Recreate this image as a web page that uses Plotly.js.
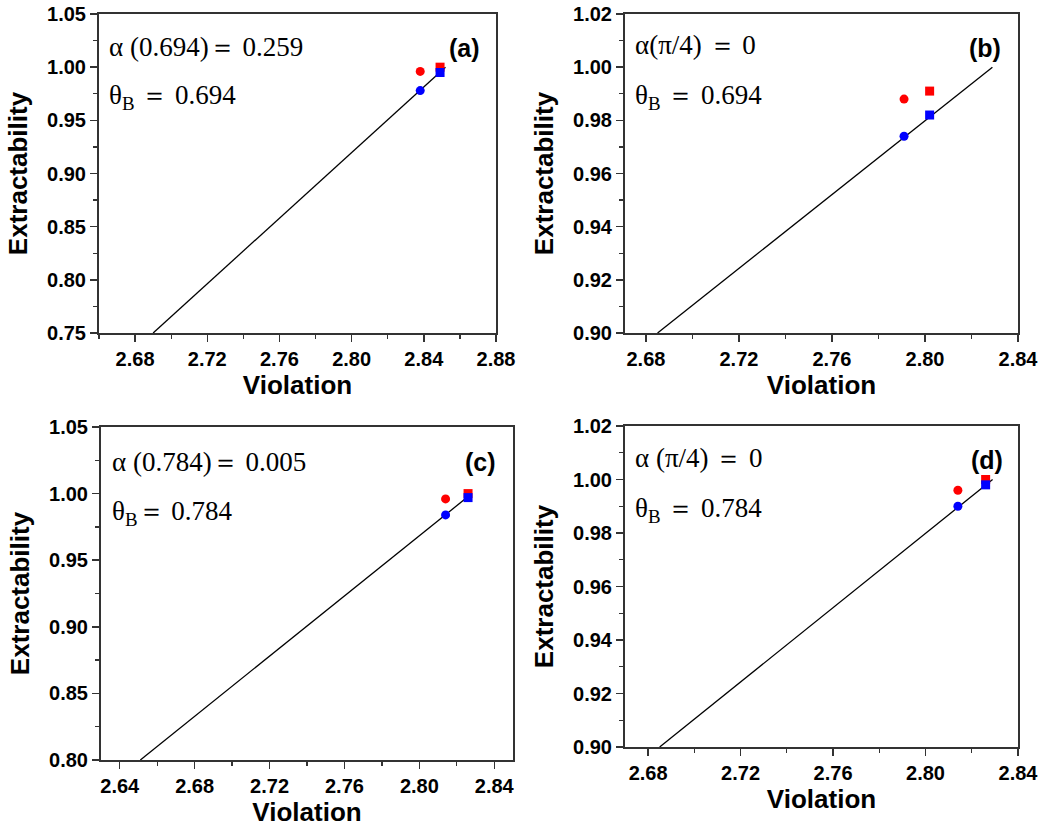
<!DOCTYPE html>
<html>
<head>
<meta charset="utf-8">
<script src="https://cdn.plot.ly/plotly-3.0.1.min.js"></script>
<style>html,body{margin:0;padding:0;background:#fff;}#chart{width:1050px;height:830px;}</style>
</head>
<body>
<div id="chart"></div>
<script>
// ---- data ----
// Panel (a)
const pointX_a = [2.838, 2.849];     // circle, square
const red_a    = [0.996, 1.000];
const blue_a   = [0.978, 0.995];
const fitX_a   = [2.690, 2.852];
const fitY_a   = [0.750, 1.000];
// Panel (b)
const pointX_b = [2.791, 2.802];
const red_b    = [0.988, 0.991];
const blue_b   = [0.974, 0.982];
const fitX_b   = [2.685, 2.829];
const fitY_b   = [0.900, 1.000];
// Panel (c)
const pointX_c = [2.814, 2.826];
const red_c    = [0.996, 1.000];
const blue_c   = [0.984, 0.997];
const fitX_c   = [2.651, 2.828];
const fitY_c   = [0.800, 1.000];
// Panel (d)
const pointX_d = [2.814, 2.826];
const red_d    = [0.996, 1.000];
const blue_d   = [0.990, 0.998];
const fitX_d   = [2.685, 2.829];
const fitY_d   = [0.900, 1.000];

const panelLabels = ['(a)', '(b)', '(c)', '(d)'];
const alphaTexts = ['α (0.694)＝ 0.259', 'α(π/4) ＝ 0', 'α (0.784)＝ 0.005', 'α (π/4) ＝ 0'];
const thetaTexts = ['θ<sub>B</sub> ＝ 0.694', 'θ<sub>B</sub> ＝ 0.694', 'θ<sub>B</sub>＝ 0.784', 'θ<sub>B</sub> ＝ 0.784'];
const xTitle = 'Violation';
const yTitle = 'Extractability';

// ---- build ----
const W = 1050, H = 830;
const panels = [
  {px: pointX_a, red: red_a, blue: blue_a, fx: fitX_a, fy: fitY_a,
   box: [99, 496, 14, 333], xr: [2.66, 2.88], yr: [0.75, 1.05], ydt: 0.05},
  {px: pointX_b, red: red_b, blue: blue_b, fx: fitX_b, fy: fitY_b,
   box: [625, 1018, 14, 333], xr: [2.671, 2.84], yr: [0.90, 1.02], ydt: 0.02},
  {px: pointX_c, red: red_c, blue: blue_c, fx: fitX_c, fy: fitY_c,
   box: [101, 513, 427, 760], xr: [2.63, 2.85], yr: [0.80, 1.05], ydt: 0.05},
  {px: pointX_d, red: red_d, blue: blue_d, fx: fitX_d, fy: fitY_d,
   box: [625, 1018, 426, 747], xr: [2.67, 2.84], yr: [0.90, 1.02], ydt: 0.02}
];
const annPos = [
  {ax: 107, ay: 47, tx: 107, ty: 97, lx: 482, ly: 48},
  {ax: 633, ay: 45, tx: 633, ty: 97, lx: 1003, ly: 48},
  {ax: 110, ay: 462, tx: 110, ty: 513, lx: 498, ly: 462},
  {ax: 633, ay: 458, tx: 633, ty: 510, lx: 1005, ly: 460}
];

const traces = [];
const layout = {
  width: W, height: H,
  margin: {l: 0, r: 0, t: 0, b: 0},
  paper_bgcolor: '#fff', plot_bgcolor: '#fff',
  showlegend: false,
  font: {family: 'Liberation Sans, Arial, sans-serif', color: '#000'},
  annotations: []
};
const axisColor = '#333';

panels.forEach((p, i) => {
  const n = i + 1;
  const xa = 'x' + (n === 1 ? '' : n), ya = 'y' + (n === 1 ? '' : n);
  const xk = 'xaxis' + (n === 1 ? '' : n), yk = 'yaxis' + (n === 1 ? '' : n);
  traces.push({x: p.fx, y: p.fy, xaxis: xa, yaxis: ya, mode: 'lines',
    line: {color: '#000', width: 1.3}, hoverinfo: 'skip'});
  traces.push({x: p.px, y: p.red, xaxis: xa, yaxis: ya, mode: 'markers',
    marker: {color: '#ff0000', size: 9, symbol: ['circle', 'square']}});
  traces.push({x: p.px, y: p.blue, xaxis: xa, yaxis: ya, mode: 'markers',
    marker: {color: '#0000ff', size: 9, symbol: ['circle', 'square']}});
  const [l, r, t, b] = p.box;
  layout[xk] = {
    domain: [l / W, r / W], anchor: ya, range: p.xr, dtick: 0.04, tickformat: '.2f',
    showline: true, mirror: true, linecolor: axisColor, linewidth: 2,
    ticks: 'outside', ticklen: 7, tickwidth: 1.5, tickcolor: axisColor,
    minor: {dtick: 0.02, ticks: 'outside', ticklen: 4, tickwidth: 1.2, tickcolor: axisColor, showgrid: false},
    showgrid: false, zeroline: false, automargin: false,
    tickfont: {family: 'Liberation Sans, Arial, sans-serif', size: 20, weight: 'bold'},
    title: {text: '<b>' + xTitle + '</b>', standoff: 4,
            font: {family: 'Liberation Sans, Arial, sans-serif', size: 26}}
  };
  layout[yk] = {
    domain: [1 - b / H, 1 - t / H], anchor: xa, range: p.yr, dtick: p.ydt, tickformat: '.2f',
    showline: true, mirror: true, linecolor: axisColor, linewidth: 2,
    ticks: 'outside', ticklen: 7, tickwidth: 1.5, tickcolor: axisColor,
    minor: {dtick: p.ydt / 2, ticks: 'outside', ticklen: 4, tickwidth: 1.2, tickcolor: axisColor, showgrid: false},
    showgrid: false, zeroline: false, automargin: false,
    tickfont: {family: 'Liberation Sans, Arial, sans-serif', size: 20, weight: 'bold'},
    title: {text: '<b>' + yTitle + '</b>', standoff: 12,
            font: {family: 'Liberation Sans, Arial, sans-serif', size: 26}}
  };
  const a = annPos[i];
  const serif = {family: 'Liberation Serif, Times New Roman, serif', size: 27, color: '#000'};
  layout.annotations.push({xref: 'paper', yref: 'paper', x: a.ax / W, y: 1 - a.ay / H,
    xanchor: 'left', yanchor: 'middle', showarrow: false, text: alphaTexts[i], font: serif});
  layout.annotations.push({xref: 'paper', yref: 'paper', x: a.tx / W, y: 1 - a.ty / H,
    xanchor: 'left', yanchor: 'middle', showarrow: false, text: thetaTexts[i], font: serif});
  layout.annotations.push({xref: 'paper', yref: 'paper', x: a.lx / W, y: 1 - a.ly / H,
    xanchor: 'right', yanchor: 'middle', showarrow: false, text: '<b>' + panelLabels[i] + '</b>',
    font: {family: 'Liberation Sans, Arial, sans-serif', size: 25, color: '#000'}});
});

Plotly.newPlot('chart', traces, layout, {displayModeBar: false, staticPlot: true});
</script>
</body>
</html>
